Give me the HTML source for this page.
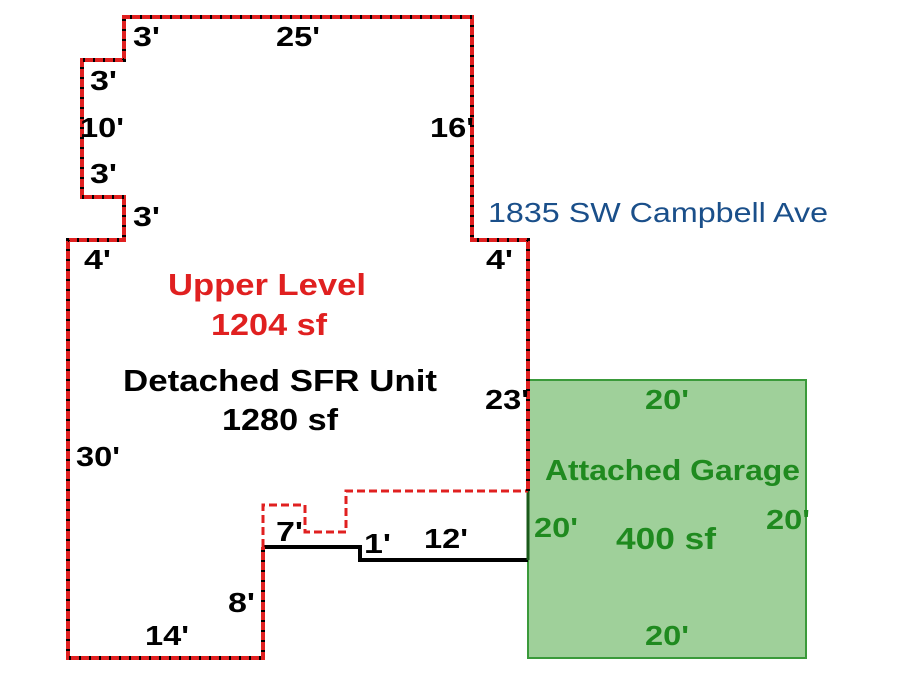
<!DOCTYPE html><html><head><style>body{margin:0;background:#fff}svg{display:block}text{font-family:"Liberation Sans",sans-serif;font-weight:bold;font-size:28px}</style></head><body>
<svg width="900" height="675" viewBox="0 0 900 675">
<rect x="528" y="380" width="278" height="278" fill="#9fd09a" stroke="#3a9a3a" stroke-width="2"/>
<polyline points="263,547 360,547 360,560 528,560" fill="none" stroke="#000" stroke-width="4"/>
<line x1="528" y1="490" x2="528" y2="560" stroke="#1a5a1a" stroke-width="3"/>
<polyline points="263,547 263,505 305,505 305,532 346,532 346,491 528,491" fill="none" stroke="#e02020" stroke-width="3" stroke-dasharray="8,4"/>
<g fill="none">
<polyline points="528,491 528,240 472,240 472,17 124,17 124,60 82,60 82,197 124,197 124,240 68,240 68,658 263,658 263,547" stroke="#e02020" stroke-width="4"/>
<polyline points="528,491 528,240 472,240 472,17 124,17 124,60 82,60 82,197 124,197 124,240 68,240 68,658 263,658 263,547" stroke="#000" stroke-width="4" stroke-dasharray="2,8"/>
</g>
<g fill="#000" lengthAdjust="spacingAndGlyphs">
<text x="133" y="46" textLength="27" lengthAdjust="spacingAndGlyphs">3'</text><text x="276" y="46" textLength="44" lengthAdjust="spacingAndGlyphs">25'</text>
<text x="90" y="90" textLength="27" lengthAdjust="spacingAndGlyphs">3'</text><text x="80" y="137" textLength="44" lengthAdjust="spacingAndGlyphs">10'</text><text x="90" y="183" textLength="27" lengthAdjust="spacingAndGlyphs">3'</text>
<text x="133" y="226" textLength="27" lengthAdjust="spacingAndGlyphs">3'</text><text x="84" y="269" textLength="27" lengthAdjust="spacingAndGlyphs">4'</text>
<text x="430" y="137" textLength="44" lengthAdjust="spacingAndGlyphs">16'</text><text x="486" y="269" textLength="27" lengthAdjust="spacingAndGlyphs">4'</text>
<text x="485" y="409" textLength="44" lengthAdjust="spacingAndGlyphs">23'</text><text x="76" y="466" textLength="44" lengthAdjust="spacingAndGlyphs">30'</text>
<text x="228" y="612" textLength="27" lengthAdjust="spacingAndGlyphs">8'</text><text x="145" y="645" textLength="44" lengthAdjust="spacingAndGlyphs">14'</text>
<text x="276" y="541" textLength="27" lengthAdjust="spacingAndGlyphs">7'</text><text x="364" y="553" textLength="27" lengthAdjust="spacingAndGlyphs">1'</text><text x="424" y="548" textLength="44" lengthAdjust="spacingAndGlyphs">12'</text>
<text x="123" y="391" style="font-size:31px" textLength="314" lengthAdjust="spacingAndGlyphs">Detached SFR Unit</text>
<text x="222" y="430" style="font-size:31px" textLength="116" lengthAdjust="spacingAndGlyphs">1280 sf</text>
</g>
<g fill="#e02020"><text x="168" y="295" style="font-size:31px" textLength="198" lengthAdjust="spacingAndGlyphs">Upper Level</text><text x="211" y="335" style="font-size:31px" textLength="116" lengthAdjust="spacingAndGlyphs">1204 sf</text></g>
<text x="488" y="222" fill="#1a4f8a" style="font-weight:normal;font-size:28px" textLength="340" lengthAdjust="spacingAndGlyphs">1835 SW Campbell Ave</text>
<g fill="#1f8a1f">
<text x="645" y="409" textLength="44" lengthAdjust="spacingAndGlyphs">20'</text><text x="545" y="480" style="font-size:29px" textLength="255" lengthAdjust="spacingAndGlyphs">Attached Garage</text>
<text x="534" y="537" textLength="44" lengthAdjust="spacingAndGlyphs">20'</text><text x="766" y="529" textLength="44" lengthAdjust="spacingAndGlyphs">20'</text>
<text x="616" y="549" style="font-size:31px" textLength="100" lengthAdjust="spacingAndGlyphs">400 sf</text><text x="645" y="645" textLength="44" lengthAdjust="spacingAndGlyphs">20'</text>
</g>
</svg></body></html>
